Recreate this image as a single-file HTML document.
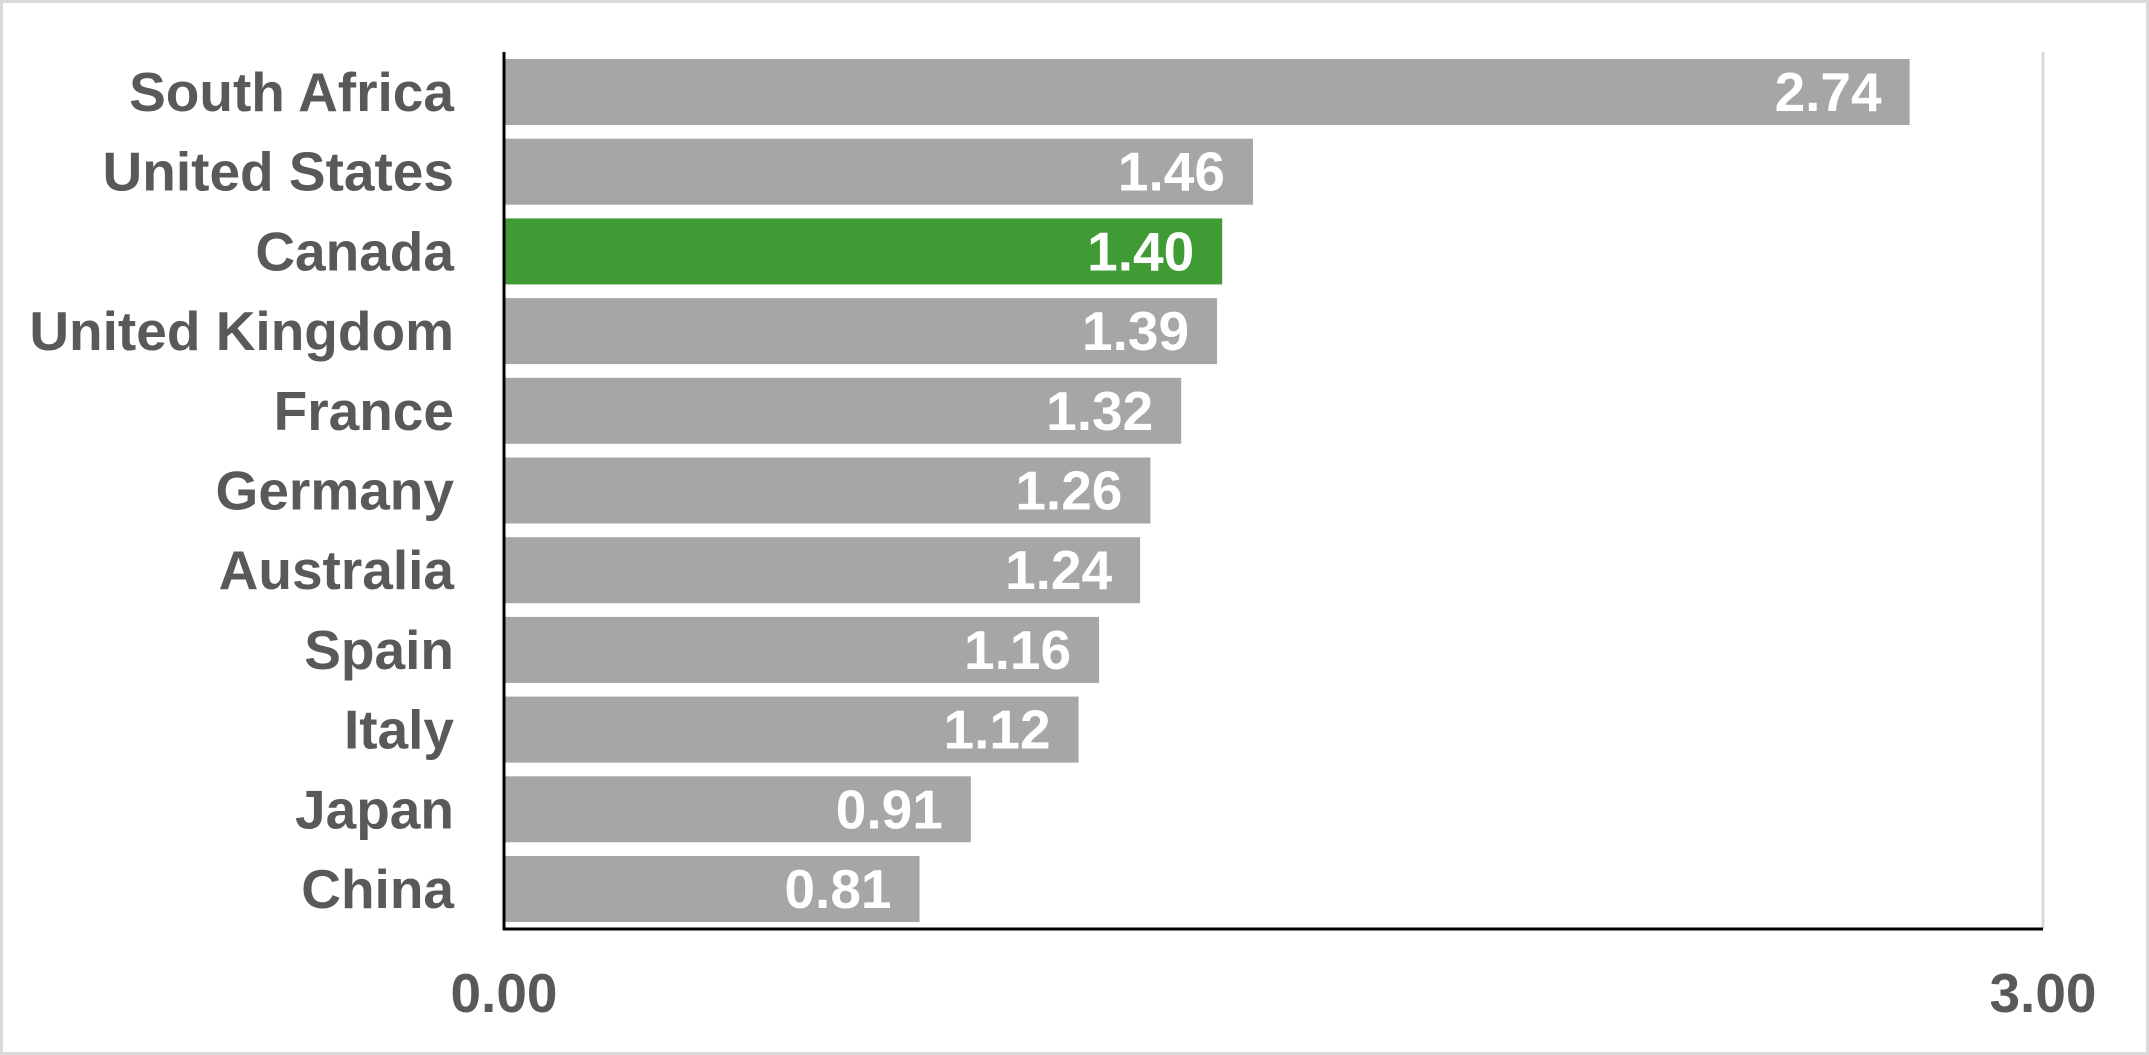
<!DOCTYPE html>
<html><head><meta charset="utf-8"><style>
html,body{margin:0;padding:0;background:#fff}
svg{display:block}
text{font-family:"Liberation Sans",Arial,sans-serif;font-weight:bold;font-size:55px}
</style></head><body>
<svg width="2149" height="1055" viewBox="0 0 2149 1055" xmlns="http://www.w3.org/2000/svg">
<rect x="1.5" y="1.5" width="2146" height="1052" fill="#fff" stroke="#d9d9d9" stroke-width="3"/>
<line x1="2043" y1="52" x2="2043" y2="929" stroke="#d9d9d9" stroke-width="3"/>
<g id="bars"></g>
<line x1="504" y1="52" x2="504" y2="930" stroke="#000" stroke-width="3"/>
<line x1="503" y1="929" x2="2043" y2="929" stroke="#000" stroke-width="3"/>
<text x="504" y="1012" fill="#595959" text-anchor="middle">0.00</text>
<text x="2043" y="1012" fill="#595959" text-anchor="middle">3.00</text>
</svg>
<script>
var d=[["South Africa",2.74],["United States",1.46],["Canada",1.40],["United Kingdom",1.39],["France",1.32],["Germany",1.26],["Australia",1.24],["Spain",1.16],["Italy",1.12],["Japan",0.91],["China",0.81]];
var g=document.getElementById("bars"),s="";
d.forEach(function(r,i){
 var top=59+i*79.7, w=r[1]*513, c=i==2?"#3f9c35":"#a6a6a6", cy=top+33;
 s+='<rect x="504" y="'+top+'" width="'+w+'" height="66" fill="'+c+'"/>';
 s+='<text x="454" y="'+(cy+19)+'" fill="#595959" text-anchor="end">'+r[0]+'</text>';
 s+='<text x="'+(504+w-28)+'" y="'+(cy+19)+'" fill="#fff" text-anchor="end">'+r[1].toFixed(2)+'</text>';
});
g.innerHTML=s;
</script>
</body></html>
